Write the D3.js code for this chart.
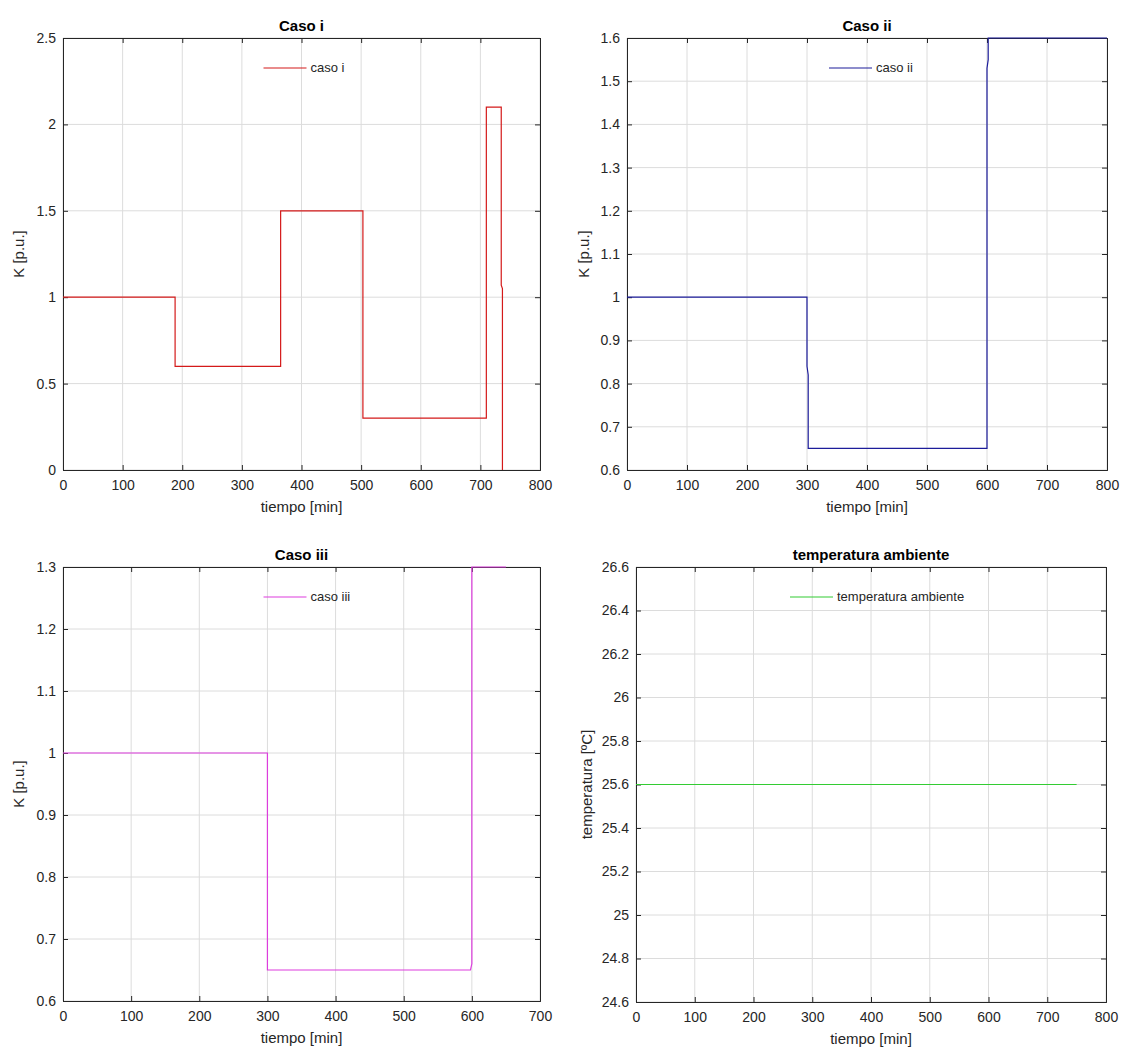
<!DOCTYPE html>
<html>
<head>
<meta charset="utf-8">
<title>Casos K</title>
<style>
  body { margin: 0; background: #fff; }
  svg { display: block; font-family: "Liberation Sans", Arial, sans-serif; }
  .tick text { fill: #262626; font-size: 14px; }
  .title { font-weight: bold; font-size: 15px; fill: #000; }
  .lbl { font-size: 15px; fill: #262626; }
</style>
<script src="https://d3js.org/d3.v7.min.js"></script>
</head>
<body>
<svg id="chart" width="1128" height="1057"></svg>
<script>
// datos (tiempo [min], valor)
const casoI_t = [0, 188, 188, 365, 365, 503, 503, 710, 710, 735, 735, 737, 737];
const casoI_k = [1, 1, 0.6, 0.6, 1.5, 1.5, 0.3, 0.3, 2.1, 2.1, 1.07, 1.05, 0];

const casoII_t = [0, 300, 300, 302, 302, 600, 600, 602, 602, 800];
const casoII_k = [1, 1, 0.84, 0.82, 0.65, 0.65, 1.53, 1.55, 1.6, 1.6];

const casoIII_t = [0, 300, 300, 598, 600, 600, 650];
const casoIII_k = [1, 1, 0.65, 0.65, 0.66, 1.3, 1.3];

const temp_t = [0, 750];
const temp_v = [25.6, 25.6];

const ticksI = [0, 0.5, 1, 1.5, 2, 2.5];
const ticksII = [0.6, 0.7, 0.8, 0.9, 1, 1.1, 1.2, 1.3, 1.4, 1.5, 1.6];
const ticksIII = [0.6, 0.7, 0.8, 0.9, 1, 1.1, 1.2, 1.3];
const ticksT = [24.6, 24.8, 25, 25.2, 25.4, 25.6, 25.8, 26, 26.2, 26.4, 26.6];
const ticksX8 = [0, 100, 200, 300, 400, 500, 600, 700, 800];
const ticksX7 = [0, 100, 200, 300, 400, 500, 600, 700];

const svg = d3.select("#chart");

function panel(o) {
  const g = svg.append("g");
  const x = d3.scaleLinear().domain(o.xd).range([o.l, o.r]);
  const y = d3.scaleLinear().domain(o.yd).range([o.b, o.t]);

  // rejilla
  g.append("g").selectAll("line").data(o.xt).join("line")
    .attr("x1", d => x(d)).attr("x2", d => x(d)).attr("y1", o.t).attr("y2", o.b)
    .attr("stroke", "#dcdcdc").attr("stroke-width", 1);
  g.append("g").selectAll("line").data(o.yt).join("line")
    .attr("y1", d => y(d)).attr("y2", d => y(d)).attr("x1", o.l).attr("x2", o.r)
    .attr("stroke", "#dcdcdc").attr("stroke-width", 1);

  const fmt = d => String(+d.toFixed(2));
  const ax = g.append("g").attr("transform", `translate(0,${o.b})`)
    .call(d3.axisBottom(x).tickValues(o.xt).tickSize(-5).tickPadding(10).tickFormat(fmt));
  const ay = g.append("g").attr("transform", `translate(${o.l},0)`)
    .call(d3.axisLeft(y).tickValues(o.yt).tickSize(-5).tickPadding(7).tickFormat(fmt));
  const axt = g.append("g").attr("transform", `translate(0,${o.t})`)
    .call(d3.axisTop(x).tickValues(o.xt).tickSize(-5).tickFormat(""));
  const ayr = g.append("g").attr("transform", `translate(${o.r},0)`)
    .call(d3.axisRight(y).tickValues(o.yt).tickSize(-5).tickFormat(""));
  [ax, ay, axt, ayr].forEach(a => {
    a.select(".domain").attr("stroke", "#262626");
    a.selectAll(".tick line").attr("stroke", "#262626");
    a.selectAll(".tick text").style("font-family", "inherit");
  });

  const line = d3.line().x(d => x(d[0])).y(d => y(d[1]));
  g.append("path")
    .datum(d3.zip(o.xs, o.ys))
    .attr("d", line)
    .attr("fill", "none")
    .attr("stroke", o.color)
    .attr("stroke-width", 1.2);

  // leyenda
  const lx = (o.l + o.r) / 2 - 38 + (o.legendDx || 0);
  const ly = o.t + 30;
  g.append("line").attr("x1", lx).attr("x2", lx + 43).attr("y1", ly).attr("y2", ly)
    .attr("stroke", o.color).attr("stroke-width", 1.2);
  g.append("text").attr("x", lx + 47).attr("y", ly + 4).attr("class", "lbl")
    .style("font-size", "13px").text(o.legend);

  g.append("text").attr("class", "title").attr("text-anchor", "middle")
    .attr("x", (o.l + o.r) / 2).attr("y", o.t - 7).text(o.title);
  g.append("text").attr("class", "lbl").attr("text-anchor", "middle")
    .attr("x", (o.l + o.r) / 2).attr("y", o.b + 42).text("tiempo [min]");
  g.append("text").attr("class", "lbl").attr("text-anchor", "middle")
    .attr("transform", `translate(${o.ylx},${(o.t + o.b) / 2}) rotate(-90)`)
    .text(o.ylabel);
}

panel({l: 63, r: 540, t: 38, b: 470, xd: [0, 800], yd: [0, 2.5], xt: ticksX8, yt: ticksI,
  xs: casoI_t, ys: casoI_k, color: "#d41a1a", title: "Caso i", legend: "caso i",
  ylabel: "K [p.u.]", ylx: 24});
panel({l: 627, r: 1107, t: 38, b: 470, xd: [0, 800], yd: [0.6, 1.6], xt: ticksX8, yt: ticksII,
  xs: casoII_t, ys: casoII_k, color: "#1c1c9a", title: "Caso ii", legend: "caso ii",
  ylabel: "K [p.u.]", ylx: 589, legendDx: 0});
panel({l: 63, r: 540, t: 567, b: 1001, xd: [0, 700], yd: [0.6, 1.3], xt: ticksX7, yt: ticksIII,
  xs: casoIII_t, ys: casoIII_k, color: "#dd3ddd", title: "Caso iii", legend: "caso iii",
  ylabel: "K [p.u.]", ylx: 24});
panel({l: 636, r: 1106, t: 567, b: 1002, xd: [0, 800], yd: [24.6, 26.6], xt: ticksX8, yt: ticksT,
  xs: temp_t, ys: temp_v, color: "#33cc33", title: "temperatura ambiente", legend: "temperatura ambiente",
  ylabel: "temperatura [ºC]", ylx: 592, legendDx: -43});
</script>
</body>
</html>
